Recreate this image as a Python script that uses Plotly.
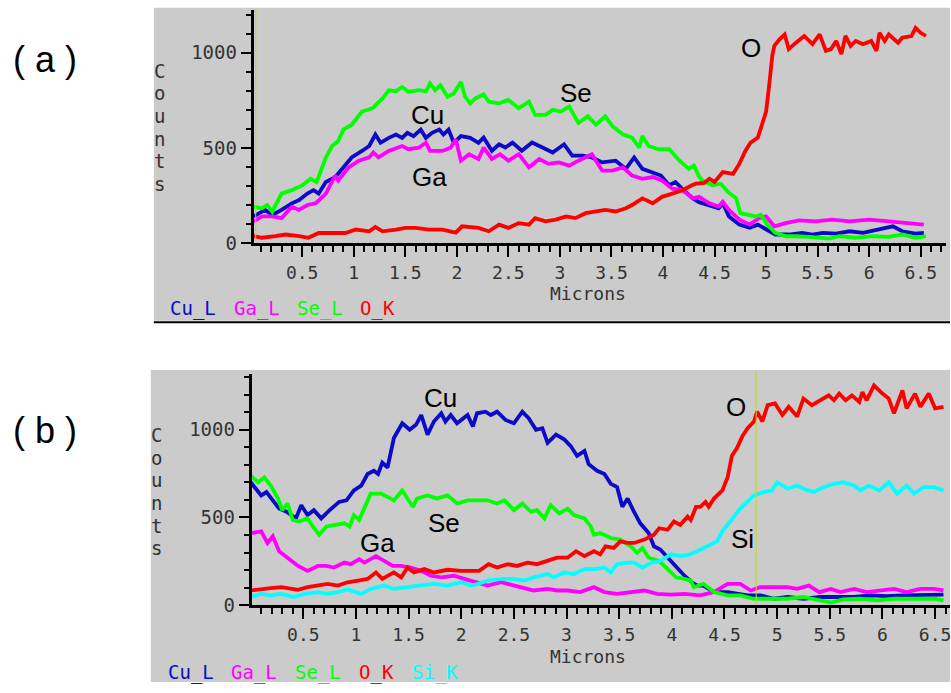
import plotly.graph_objects as go

W, H = 951, 693

# ---------------- data (microns, counts) ----------------
A_CU = [(0.03,140),(0.14,174),(0.21,148),(0.30,174),(0.40,209),(0.47,226),(0.55,260),(0.61,278),(0.66,260),(0.73,321),
        (0.82,346),(0.92,415),(0.98,450),(1.08,484),(1.15,510),(1.21,570),(1.26,527),(1.34,553),(1.41,570),(1.47,553),
        (1.52,579),(1.58,562),(1.65,596),(1.70,553),(1.76,579),(1.83,596),(1.87,570),(1.92,596),(1.97,527),(2.04,562),
        (2.13,553),(2.21,527),(2.26,554),(2.34,485),(2.41,519),(2.47,502),(2.54,528),(2.63,485),(2.73,528),(2.83,502),
        (2.93,476),(3.04,519),(3.12,459),(3.22,459),(3.31,450),(3.41,424),(3.54,433),(3.64,390),(3.72,450),(3.80,390),
        (3.88,373),(3.98,355),(4.06,304),(4.12,321),(4.20,278),(4.29,235),(4.35,215),(4.45,200),(4.54,183),(4.58,209),
        (4.64,140),(4.74,97),(4.84,80),(4.92,97),(5.00,71),(5.09,45),(5.22,45),(5.35,54),(5.45,45),(5.55,54),
        (5.68,50),(5.81,62),(5.94,54),(6.07,71),(6.23,88),(6.32,62),(6.45,50),(6.53,54)]
A_GA = [(0.03,114),(0.11,140),(0.21,140),(0.30,131),(0.40,191),(0.47,174),(0.55,200),(0.63,209),(0.73,260),(0.82,355),
        (0.85,329),(0.95,398),(1.05,433),(1.15,450),(1.19,476),(1.24,450),(1.34,484),(1.47,510),(1.53,493),(1.63,501),
        (1.70,527),(1.74,484),(1.86,484),(1.94,501),(1.99,545),(2.04,433),(2.12,467),(2.21,441),(2.26,502),(2.34,442),
        (2.42,467),(2.50,433),(2.60,467),(2.70,398),(2.80,442),(2.89,416),(2.99,424),(3.09,407),(3.18,433),(3.25,450),
        (3.31,467),(3.41,381),(3.51,381),(3.61,398),(3.70,355),(3.80,338),(3.90,347),(3.99,329),(4.09,286),(4.19,278),
        (4.29,235),(4.35,243),(4.45,209),(4.54,192),(4.58,217),(4.64,174),(4.74,123),(4.84,97),(4.93,131),(5.00,140),
        (5.08,88),(5.19,105),(5.32,119),(5.48,114),(5.64,123),(5.81,114),(6.00,123),(6.19,114),(6.36,105),(6.53,97)]
A_SE = [(0.03,191),(0.11,183),(0.16,200),(0.21,165),(0.30,260),(0.40,278),(0.50,303),(0.58,338),(0.64,321),(0.73,450),
        (0.79,510),(0.85,536),(0.90,596),(0.98,622),(1.08,691),(1.18,708),(1.28,760),(1.34,803),(1.41,798),(1.47,820),
        (1.53,795),(1.63,803),(1.70,798),(1.74,838),(1.79,803),(1.84,829),(1.91,769),(1.97,786),(2.04,846),(2.08,769),
        (2.13,734),(2.18,760),(2.26,781),(2.31,743),(2.41,734),(2.50,752),(2.60,709),(2.70,743),(2.76,674),(2.86,674),
        (2.93,700),(3.01,691),(3.09,717),(3.18,631),(3.27,666),(3.35,622),(3.44,666),(3.51,614),(3.61,571),(3.70,554),
        (3.77,502),(3.80,562),(3.86,510),(3.96,493),(4.06,493),(4.16,433),(4.25,390),(4.30,407),(4.35,350),(4.38,329),
        (4.48,304),(4.56,312),(4.63,269),(4.71,235),(4.75,157),(4.84,149),(4.90,140),(4.95,149),(5.01,97),(5.09,54),
        (5.19,36),(5.29,36),(5.42,33),(5.61,23),(5.71,36),(5.87,28),(6.03,36),(6.19,33),(6.32,45),(6.45,28),(6.55,36)]
A_O = [(0.03,36),(0.11,28),(0.24,36),(0.34,45),(0.47,36),(0.56,28),(0.66,53),(0.79,55),(0.92,53),(1.02,71),
       (1.15,62),(1.21,84),(1.28,62),(1.41,71),(1.50,80),(1.60,80),(1.73,71),(1.86,71),(1.99,55),(2.05,88),
       (2.21,80),(2.31,62),(2.41,97),(2.50,80),(2.60,105),(2.70,97),(2.76,131),(2.86,114),(2.96,123),(3.06,140),
       (3.15,131),(3.25,157),(3.35,166),(3.44,174),(3.54,166),(3.64,183),(3.70,200),(3.80,235),(3.90,209),(3.99,243),
       (4.09,260),(4.19,278),(4.28,304),(4.32,312),(4.40,316),(4.45,338),(4.50,321),(4.58,373),(4.68,364),(4.74,416),
       (4.80,485),(4.85,528),(4.92,554),(4.96,622),(5.00,691),(5.03,829),(5.06,984),(5.08,1036),(5.13,1071),(5.18,1096),
       (5.22,1019),(5.29,1053),(5.37,1088),(5.45,1045),(5.52,1096),(5.58,1010),(5.63,1019),(5.68,1062),(5.73,993),(5.77,1088),
       (5.82,1036),(5.87,1062),(5.94,1045),(6.02,1062),(6.07,1010),(6.10,1105),(6.15,1062),(6.19,1096),(6.28,1053),(6.32,1079),
       (6.41,1088),(6.45,1131),(6.50,1105),(6.55,1088)]

B_CU = [(0.00,701),(0.05,664),(0.10,626),(0.15,645),(0.21,598),(0.27,551),(0.34,533),(0.38,514),(0.43,495),(0.48,570),
        (0.54,514),(0.60,542),(0.67,495),(0.75,542),(0.84,589),(0.91,598),(0.98,654),(1.05,682),(1.11,748),(1.17,766),
        (1.21,748),(1.25,813),(1.30,785),(1.36,953),(1.44,1037),(1.51,1000),(1.57,1028),(1.62,1084),(1.68,972),(1.74,1047),
        (1.81,1094),(1.85,1047),(1.90,1084),(1.96,1037),(2.06,1084),(2.11,1019),(2.15,1094),(2.23,1103),(2.28,1084),(2.34,1103),
        (2.42,1056),(2.50,1037),(2.58,1103),(2.64,1066),(2.71,1000),(2.77,1009),(2.82,925),(2.90,972),(2.98,944),(3.04,907),
        (3.10,851),(3.17,879),(3.21,804),(3.29,766),(3.36,748),(3.42,692),(3.48,673),(3.53,561),(3.58,608),(3.64,533),
        (3.70,467),(3.78,411),(3.83,336),(3.89,318),(3.96,271),(4.04,224),(4.12,168),(4.19,131),(4.24,112),(4.30,112),
        (4.40,75),(4.53,75),(4.62,65),(4.72,56),(4.84,56),(4.97,37),(5.10,47),(5.25,37),(5.41,47),(5.57,47),
        (5.73,47),(5.89,56),(6.04,52),(6.20,56),(6.36,56),(6.58,60)]
B_GA = [(0.00,411),(0.10,421),(0.16,355),(0.21,393),(0.27,308),(0.35,271),(0.45,224),(0.54,196),(0.64,224),(0.72,224),
        (0.79,215),(0.89,243),(0.95,234),(1.03,262),(1.08,243),(1.19,280),(1.27,252),(1.35,224),(1.43,224),(1.52,215),
        (1.62,196),(1.71,168),(1.81,159),(1.93,168),(2.03,150),(2.15,131),(2.25,112),(2.38,131),(2.50,112),(2.60,93),
        (2.69,84),(2.82,93),(2.91,84),(3.01,84),(3.13,75),(3.26,103),(3.36,75),(3.48,65),(3.61,75),(3.74,84),
        (3.86,65),(3.99,60),(4.12,65),(4.27,56),(4.40,75),(4.53,122),(4.65,122),(4.75,84),(4.84,103),(4.97,103),
        (5.10,103),(5.19,93),(5.30,112),(5.40,75),(5.51,93),(5.60,75),(5.73,93),(5.85,75),(5.98,84),(6.11,93),
        (6.23,75),(6.36,93),(6.49,93),(6.58,84)]
B_SE = [(0.00,738),(0.07,701),(0.13,729),(0.19,682),(0.26,608),(0.30,542),(0.35,580),(0.40,486),(0.46,477),(0.54,495),
        (0.59,449),(0.65,402),(0.72,449),(0.79,458),(0.89,467),(0.94,449),(0.98,514),(1.03,486),(1.09,561),(1.14,636),
        (1.24,636),(1.30,617),(1.36,598),(1.44,654),(1.54,561),(1.58,608),(1.68,626),(1.77,608),(1.87,626),(1.96,580),
        (2.06,598),(2.17,598),(2.25,598),(2.34,580),(2.41,598),(2.50,542),(2.58,580),(2.66,533),(2.72,542),(2.79,495),
        (2.85,570),(2.93,523),(3.01,551),(3.07,514),(3.17,495),(3.23,449),(3.26,402),(3.32,411),(3.42,383),(3.51,374),
        (3.61,336),(3.67,299),(3.72,327),(3.78,271),(3.88,252),(3.96,206),(4.04,159),(4.12,150),(4.18,140),(4.21,103),
        (4.30,122),(4.40,75),(4.53,56),(4.65,56),(4.78,37),(4.94,37),(5.10,37),(5.25,47),(5.41,28),(5.51,15),
        (5.63,33),(5.79,37),(5.95,28),(6.11,37),(6.30,37),(6.49,37),(6.58,28)]
B_O = [(0.00,84),(0.10,93),(0.19,97),(0.29,103),(0.38,97),(0.45,88),(0.54,103),(0.64,112),(0.73,122),(0.83,112),
       (0.92,131),(1.02,140),(1.11,150),(1.19,187),(1.25,150),(1.36,187),(1.43,159),(1.49,215),(1.55,187),(1.65,206),
       (1.74,187),(1.87,202),(2.00,196),(2.17,196),(2.26,234),(2.34,215),(2.44,234),(2.53,224),(2.63,243),(2.72,234),
       (2.82,252),(2.91,271),(3.01,271),(3.09,308),(3.17,280),(3.26,308),(3.32,290),(3.37,336),(3.45,327),(3.51,364),
       (3.58,355),(3.64,355),(3.74,374),(3.83,402),(3.88,439),(3.96,430),(4.02,477),(4.08,458),(4.15,505),(4.18,486),
       (4.23,561),(4.27,561),(4.32,589),(4.35,561),(4.40,608),(4.48,654),(4.53,729),(4.57,850),(4.62,897),(4.67,963),
       (4.72,1009),(4.78,1047),(4.81,1103),(4.86,1047),(4.91,1140),(4.98,1150),(5.05,1084),(5.11,1131),(5.19,1075),(5.25,1178),
       (5.33,1140),(5.41,1168),(5.49,1196),(5.54,1168),(5.59,1206),(5.65,1168),(5.71,1196),(5.78,1159),(5.81,1215),(5.85,1168),
       (5.92,1253),(6.00,1206),(6.06,1178),(6.11,1094),(6.19,1224),(6.23,1122),(6.31,1206),(6.36,1131),(6.44,1206),(6.50,1122),
       (6.58,1131)]
B_SI = [(0.00,47),(0.10,65),(0.19,56),(0.29,65),(0.41,47),(0.51,65),(0.64,75),(0.73,65),(0.83,75),(0.92,90),
        (1.05,65),(1.14,93),(1.27,112),(1.36,93),(1.49,103),(1.62,112),(1.74,122),(1.87,112),(2.00,131),(2.09,112),
        (2.15,120),(2.25,140),(2.38,150),(2.50,150),(2.60,140),(2.69,159),(2.82,178),(2.88,159),(2.98,187),(3.07,178),
        (3.17,206),(3.26,206),(3.36,215),(3.42,187),(3.48,234),(3.58,243),(3.64,243),(3.72,215),(3.81,243),(3.89,252),
        (3.99,290),(4.08,280),(4.15,285),(4.24,308),(4.34,336),(4.43,364),(4.48,421),(4.56,486),(4.65,551),(4.78,626),
        (4.87,645),(4.95,654),(5.00,701),(5.10,664),(5.19,682),(5.25,664),(5.35,645),(5.44,673),(5.54,692),(5.63,701),
        (5.73,682),(5.79,654),(5.87,682),(5.97,654),(6.06,701),(6.14,636),(6.23,682),(6.30,636),(6.39,673),(6.49,673),
        (6.58,654)]

LEGEND_A = ["Cu_L", "Ga_L", "Se_L", "O_K"]
LEGEND_B = ["Cu_L", "Ga_L", "Se_L", "O_K", "Si_K"]
LABELS_A = [("Cu", 1.715, 672), ("Ga", 1.735, 346), ("Se", 3.16, 786), ("O", 4.855, 1024)]
LABELS_B = [("Cu", 1.80, 1183), ("Se", 1.84, 466), ("Ga", 1.205, 353), ("O", 4.61, 1127), ("Si", 4.67, 376)]

COL = {"Cu": "#0a0ac8", "Ga": "#ff00ff", "Se": "#00ff00", "O": "#ff0000", "Si": "#00ffff"}
LCOL = {"Cu_L": COL["Cu"], "Ga_L": COL["Ga"], "Se_L": COL["Se"], "O_K": COL["O"], "Si_K": COL["Si"]}
GRAY = "#cbcbcb"
MONO = "DejaVu Sans Mono"
SANS = "Liberation Sans, Arial"
TXT = "#333333"


def px(x):
    return x / W


def py(y):
    return 1 - y / H


fig = go.Figure()

for name, data in [("Cu", A_CU), ("Ga", A_GA), ("Se", A_SE), ("O", A_O)]:
    fig.add_trace(go.Scatter(x=[p[0] for p in data], y=[p[1] for p in data], mode="lines",
                             line=dict(color=COL[name], width=3.8), xaxis="x", yaxis="y",
                             showlegend=False, hoverinfo="skip"))
for name, data in [("Cu", B_CU), ("Ga", B_GA), ("Se", B_SE), ("O", B_O), ("Si", B_SI)]:
    fig.add_trace(go.Scatter(x=[p[0] for p in data], y=[p[1] for p in data], mode="lines",
                             line=dict(color=COL[name], width=3.8), xaxis="x2", yaxis="y2",
                             showlegend=False, hoverinfo="skip"))


def xax(domain, rng, anchor):
    return dict(domain=domain, range=rng, anchor=anchor, showline=True, linecolor="black", linewidth=3,
                ticks="outside", ticklen=11, tickwidth=2, tickcolor="black", tickmode="linear", tick0=0, dtick=0.5,
                showgrid=False, zeroline=False, ticklabeloverflow="allow",
                tickfont=dict(family=MONO, size=18, color=TXT),
                minor=dict(ticks="outside", tickmode="linear", tick0=0, dtick=0.1, ticklen=6, tickwidth=1.5,
                           tickcolor="black", showgrid=False))


def yax(domain, rng, anchor):
    return dict(domain=domain, range=rng, anchor=anchor, showline=True, linecolor="black", linewidth=3,
                ticks="outside", ticklen=10, tickwidth=2, tickcolor="black", tickmode="linear", tick0=0, dtick=500,
                showgrid=False, zeroline=False,
                tickfont=dict(family=MONO, size=19, color=TXT),
                minor=dict(ticks="outside", tickmode="linear", tick0=0, dtick=100, ticklen=5, tickwidth=1.5,
                           tickcolor="black", showgrid=False))


shapes = [
    dict(type="rect", xref="paper", yref="paper", x0=px(154), x1=px(951), y0=py(326), y1=py(8),
         fillcolor=GRAY, line=dict(width=0), layer="below"),
    dict(type="line", xref="paper", yref="paper", x0=px(154), x1=px(951), y0=py(327.5), y1=py(327.5),
         line=dict(color="black", width=2)),
    dict(type="rect", xref="paper", yref="paper", x0=px(151), x1=px(951), y0=py(693), y1=py(376),
         fillcolor=GRAY, line=dict(width=0), layer="below"),
    dict(type="line", xref="paper", yref="paper", x0=px(256), x1=px(256), y0=py(245), y1=py(10),
         line=dict(color="#b8d830", width=1)),
    dict(type="line", xref="paper", yref="paper", x0=px(757), x1=px(757), y0=py(614), y1=py(377),
         line=dict(color="#b8d830", width=1)),
]

ann = []
ann.append(dict(text="( a )", x=px(45), y=py(60), xref="paper", yref="paper", showarrow=False,
                font=dict(family=SANS, size=36, color="black"), xanchor="center", yanchor="middle"))
ann.append(dict(text="( b )", x=px(45), y=py(437), xref="paper", yref="paper", showarrow=False,
                font=dict(family=SANS, size=36, color="black"), xanchor="center", yanchor="middle"))
for i, ch in enumerate("Counts"):
    ann.append(dict(text=ch, x=px(160), y=py(72 + 23 * i), xref="paper", yref="paper", showarrow=False,
                    font=dict(family=MONO, size=19, color=TXT), xanchor="center", yanchor="middle"))
    ann.append(dict(text=ch, x=px(157), y=py(442 + 23 * i), xref="paper", yref="paper", showarrow=False,
                    font=dict(family=MONO, size=19, color=TXT), xanchor="center", yanchor="middle"))
ann.append(dict(text="Microns", x=px(589), y=py(298), xref="paper", yref="paper", showarrow=False,
                font=dict(family=MONO, size=18, color=TXT), xanchor="center", yanchor="middle"))
ann.append(dict(text="Microns", x=px(589), y=py(667), xref="paper", yref="paper", showarrow=False,
                font=dict(family=MONO, size=18, color=TXT), xanchor="center", yanchor="middle"))
for t, x0 in zip(LEGEND_A, [168, 232, 295, 358]):
    ann.append(dict(text=t, x=px(x0), y=py(313), xref="paper", yref="paper", showarrow=False,
                    font=dict(family=MONO, size=19, color=LCOL[t]), xanchor="left", yanchor="middle"))
for t, x0 in zip(LEGEND_B, [166, 229, 293, 357, 410]):
    ann.append(dict(text=t, x=px(x0), y=py(683), xref="paper", yref="paper", showarrow=False,
                    font=dict(family=MONO, size=19, color=LCOL[t]), xanchor="left", yanchor="middle"))
for t, x, y in LABELS_A:
    ann.append(dict(text=t, x=x, y=y, xref="x", yref="y", showarrow=False,
                    font=dict(family=SANS, size=26, color="black"), xanchor="center", yanchor="middle"))
for t, x, y in LABELS_B:
    ann.append(dict(text=t, x=x, y=y, xref="x2", yref="y2", showarrow=False,
                    font=dict(family=SANS, size=26, color="black"), xanchor="center", yanchor="middle"))

xa_lo, xa_hi = 254, 947
ya_bot, ya_top = 247, 10
xb_lo, xb_hi = 252, 951
yb_bot, yb_top = 615, 380

fig.update_layout(
    width=W, height=H, margin=dict(l=0, r=0, t=0, b=0), autosize=False,
    paper_bgcolor="white", plot_bgcolor=GRAY,
    xaxis=xax([px(xa_lo), px(xa_hi)], [0.03, 0.03 + (xa_hi - xa_lo) / 103.2], "y"),
    yaxis=yax([py(ya_bot), py(ya_top)], [0, (ya_bot - ya_top) / 0.1934], "x"),
    xaxis2=xax([px(xb_lo), px(xb_hi)], [0.01, 0.01 + (xb_hi - xb_lo) / 105.4], "y2"),
    yaxis2=yax([py(yb_bot), py(yb_top)], [0, (yb_bot - yb_top) / 0.1783], "x2"),
    shapes=shapes, annotations=ann, showlegend=False,
)

fig.write_html("out.html")
